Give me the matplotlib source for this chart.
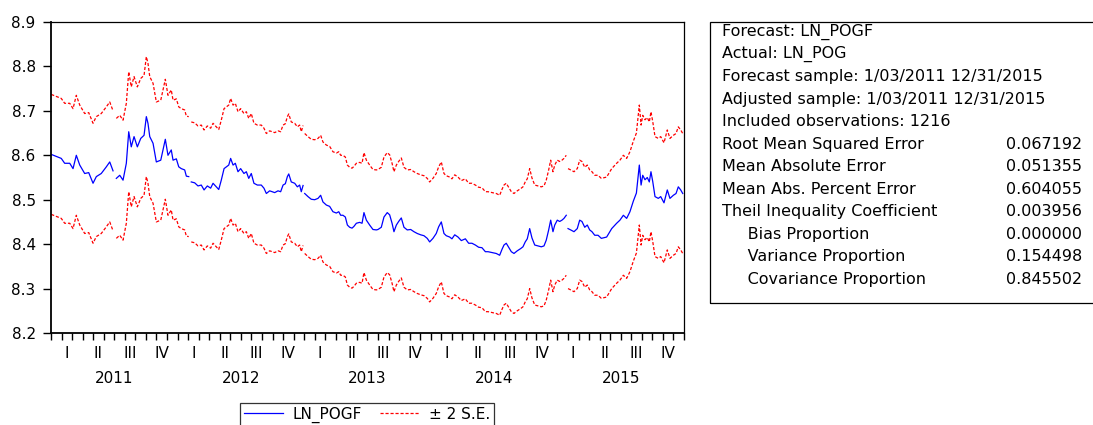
import numpy as np
import matplotlib
matplotlib.use("Agg")
import matplotlib.pyplot as plt
from matplotlib.lines import Line2D
from matplotlib.patches import Rectangle

# ---- data ----
# time in decimal years, forecast of LN_POG (nan = missing obs)
t = [2011.002, 2011.081, 2011.108, 2011.148, 2011.174, 2011.200, 2011.227, 2011.266, 2011.298, 2011.332,
     2011.358, 2011.397, 2011.437, 2011.464, 2011.490, 2011.505, 2011.516, 2011.543, 2011.569, 2011.595,
     2011.614, 2011.634, 2011.656, 2011.682, 2011.709, 2011.735, 2011.753, 2011.766, 2011.780, 2011.806,
     2011.832, 2011.867, 2011.885, 2011.903, 2011.924, 2011.950, 2011.964, 2011.990, 2012.009, 2012.029,
     2012.056, 2012.069, 2012.088, 2012.099, 2012.108, 2012.135, 2012.161, 2012.187, 2012.209, 2012.235,
     2012.261, 2012.280, 2012.306, 2012.325, 2012.345, 2012.367, 2012.385, 2012.404, 2012.419, 2012.438,
     2012.456, 2012.477, 2012.498, 2012.524, 2012.543, 2012.562, 2012.582, 2012.603, 2012.630, 2012.661,
     2012.682, 2012.701, 2012.727, 2012.767, 2012.793, 2012.814, 2012.833, 2012.851, 2012.867, 2012.878,
     2012.898, 2012.925, 2012.946, 2012.964, 2012.977, 2012.991, 2012.999, 2013.004, 2013.030, 2013.056,
     2013.083, 2013.109, 2013.130, 2013.148, 2013.175, 2013.201, 2013.227, 2013.254, 2013.273, 2013.288,
     2013.306, 2013.325, 2013.341, 2013.359, 2013.378, 2013.393, 2013.412, 2013.438, 2013.457, 2013.472,
     2013.491, 2013.517, 2013.543, 2013.570, 2013.583, 2013.609, 2013.630, 2013.656, 2013.675, 2013.694,
     2013.709, 2013.728, 2013.746, 2013.767, 2013.788, 2013.814, 2013.841, 2013.867, 2013.893, 2013.920,
     2013.946, 2013.972, 2013.991, 2014.017, 2014.043, 2014.062, 2014.083, 2014.104, 2014.122, 2014.149,
     2014.167, 2014.189, 2014.215, 2014.241, 2014.273, 2014.299, 2014.325, 2014.352, 2014.378, 2014.404,
     2014.431, 2014.452, 2014.483, 2014.517, 2014.544, 2014.562, 2014.578, 2014.596, 2014.615, 2014.636,
     2014.657, 2014.683, 2014.710, 2014.728, 2014.746, 2014.762, 2014.781, 2014.799, 2014.821, 2014.847,
     2014.873, 2014.894, 2014.912, 2014.931, 2014.947, 2014.965, 2014.979, 2014.999, 2015.018, 2015.036,
     2015.052, 2015.070, 2015.077, 2015.084, 2015.105, 2015.131, 2015.157, 2015.176, 2015.194, 2015.216,
     2015.236, 2015.255, 2015.273, 2015.295, 2015.321, 2015.347, 2015.389, 2015.429, 2015.468, 2015.494,
     2015.521, 2015.547, 2015.573, 2015.600, 2015.624, 2015.647, 2015.661, 2015.674, 2015.692, 2015.710,
     2015.726, 2015.739, 2015.753, 2015.771, 2015.797, 2015.816, 2015.842, 2015.868, 2015.889, 2015.916,
     2015.937, 2015.955, 2015.974, 2015.990]

ln_pogf = [8.602, 8.593, 8.582, 8.582, 8.570, 8.600, 8.578, 8.559, 8.561, 8.537,
           8.552, 8.559, 8.574, 8.585, 8.565, np.nan, 8.548, 8.555, 8.544, 8.582,
           8.653, 8.619, 8.642, 8.619, 8.638, 8.645, 8.687, 8.672, 8.642, 8.627,
           8.585, 8.589, 8.612, 8.636, 8.600, 8.612, 8.589, 8.592, 8.574, 8.570,
           8.567, 8.553, 8.552, np.nan, 8.540, 8.538, 8.531, 8.533, 8.522, 8.531,
           8.526, 8.537, 8.529, 8.523, 8.544, 8.570, 8.574, 8.578, 8.593, 8.578,
           8.582, 8.563, 8.570, 8.559, 8.563, 8.548, 8.559, 8.537, 8.533, 8.533,
           8.526, 8.514, 8.520, 8.516, 8.520, 8.518, 8.533, 8.536, 8.552, 8.558,
           8.540, 8.537, 8.529, 8.533, 8.518, 8.532, np.nan, 8.514, 8.507, 8.501,
           8.500, 8.503, 8.510, 8.495, 8.488, 8.485, 8.473, 8.470, 8.473, 8.465,
           8.465, 8.461, 8.443, 8.438, 8.436, 8.440, 8.447, 8.449, 8.447, 8.471,
           8.454, 8.443, 8.433, 8.432, 8.433, 8.438, 8.461, 8.471, 8.466, 8.447,
           8.428, 8.443, 8.451, 8.459, 8.438, 8.432, 8.433, 8.428, 8.424, 8.421,
           8.419, 8.413, 8.405, 8.413, 8.424, 8.439, 8.450, 8.424, 8.419, 8.416,
           8.412, 8.421, 8.416, 8.408, 8.412, 8.402, 8.402, 8.398, 8.393, 8.392,
           8.383, 8.383, 8.381, 8.379, 8.375, 8.388, 8.398, 8.402, 8.393, 8.383,
           8.379, 8.385, 8.390, 8.394, 8.405, 8.412, 8.435, 8.414, 8.398, 8.396,
           8.394, 8.396, 8.409, 8.432, 8.454, 8.428, 8.443, 8.454, 8.451, 8.454,
           8.458, 8.465, np.nan, 8.435, 8.432, 8.428, 8.435, 8.454, 8.451, 8.438,
           8.443, 8.432, 8.428, 8.420, 8.420, 8.413, 8.416, 8.435, 8.447, 8.454,
           8.465, 8.458, 8.473, 8.497, 8.515, 8.578, 8.533, 8.555, 8.545, 8.550,
           8.540, 8.563, 8.541, 8.507, 8.503, 8.507, 8.493, 8.522, 8.503, 8.510,
           8.514, 8.529, 8.522, 8.514]

two_se = 0.135  # half-width of the +/- 2 S.E. band

years = [2011, 2012, 2013, 2014, 2015]
quarters = ["I", "II", "III", "IV"]

stats_labels = ["Root Mean Squared Error", "Mean Absolute Error", "Mean Abs. Percent Error",
                "Theil Inequality Coefficient", "     Bias Proportion", "     Variance Proportion",
                "     Covariance Proportion"]
stats_values = ["0.067192", "0.051355", "0.604055", "0.003956", "0.000000", "0.154498", "0.845502"]
header_lines = ["Forecast: LN_POGF", "Actual: LN_POG", "Forecast sample: 1/03/2011 12/31/2015",
                "Adjusted sample: 1/03/2011 12/31/2015", "Included observations: 1216"]

# ---- plot ----
plt.rcParams['font.family'] = ['DejaVu Sans']
W, H = 1093, 425
fig = plt.figure(figsize=(W / 100, H / 100), dpi=100)
ax = fig.add_axes([51 / W, 1 - 333 / H, (684 - 51) / W, (333 - 22) / H])

f = np.array(ln_pogf)
ax.plot(t, f, color="#0000ff", lw=0.9)
ax.plot(t, f + two_se, color="#ff0000", lw=0.9, ls=(0, (2.5, 1.5)))
ax.plot(t, f - two_se, color="#ff0000", lw=0.9, ls=(0, (2.5, 1.5)))

ax.set_xlim(2011.0, 2016.0)
ax.set_ylim(8.2, 8.9)
ax.set_yticks(np.arange(8.2, 8.91, 0.1))
ax.set_yticklabels([f"{v:.1f}" for v in np.arange(8.2, 8.91, 0.1)])
ax.tick_params(axis="y", direction="out", length=6, width=1, labelsize=11, pad=5)

# quarter labels at mid-quarter, month tick marks
qpos = [y + (q + 0.5) / 4 for y in years for q in range(4)]
ax.set_xticks(qpos)
ax.set_xticklabels(quarters * len(years))
ax.set_xticks([y + m / 12 for y in years for m in range(12)] + [2016.0], minor=True)
ax.tick_params(axis="x", which="major", length=0, labelsize=11, pad=9)
ax.tick_params(axis="x", which="minor", direction="out", length=5, width=1)
for y in years:
    ax.text(y + 0.5, -0.145, str(y), transform=ax.get_xaxis_transform(),
            ha="center", va="center", fontsize=11)

for side in ["left", "bottom"]:
    ax.spines[side].set_linewidth(1.3)
for side in ["top", "right"]:
    ax.spines[side].set_linewidth(0.9)

# legend, bottom edge of its frame falls off the picture like the original
handles = [Line2D([], [], color="#0000ff", lw=0.9),
           Line2D([], [], color="#ff0000", lw=0.9, ls=(0, (2.5, 1.5)))]
leg = fig.legend(handles, ["LN_POGF", "± 2 S.E."], loc="upper center",
                 bbox_to_anchor=(367 / W, 1 - 403 / H), borderaxespad=0,
                 ncol=2, fontsize=11, frameon=True, fancybox=False, edgecolor="black",
                 handlelength=2.6, handletextpad=0.6, columnspacing=1.2, borderpad=0.25)
leg.get_frame().set_linewidth(0.9)

# statistics box
fig.add_artist(Rectangle((710 / W, 1 - 303 / H), 400 / W, (303 - 21.5) / H, transform=fig.transFigure,
                         fill=False, edgecolor="black", lw=0.9))
row_y = [31.7 + 22.5 * i for i in range(12)]
for i, s in enumerate(header_lines):
    fig.text(722 / W, 1 - row_y[i] / H, s, ha="left", va="center", fontsize=11.5)
for j, (lab, val) in enumerate(zip(stats_labels, stats_values)):
    yy = 1 - row_y[len(header_lines) + j] / H
    fig.text(722 / W, yy, lab, ha="left", va="center", fontsize=11.5)
    fig.text(1082 / W, yy, val, ha="right", va="center", fontsize=11.5)

fig.savefig("out.png", dpi=100)
